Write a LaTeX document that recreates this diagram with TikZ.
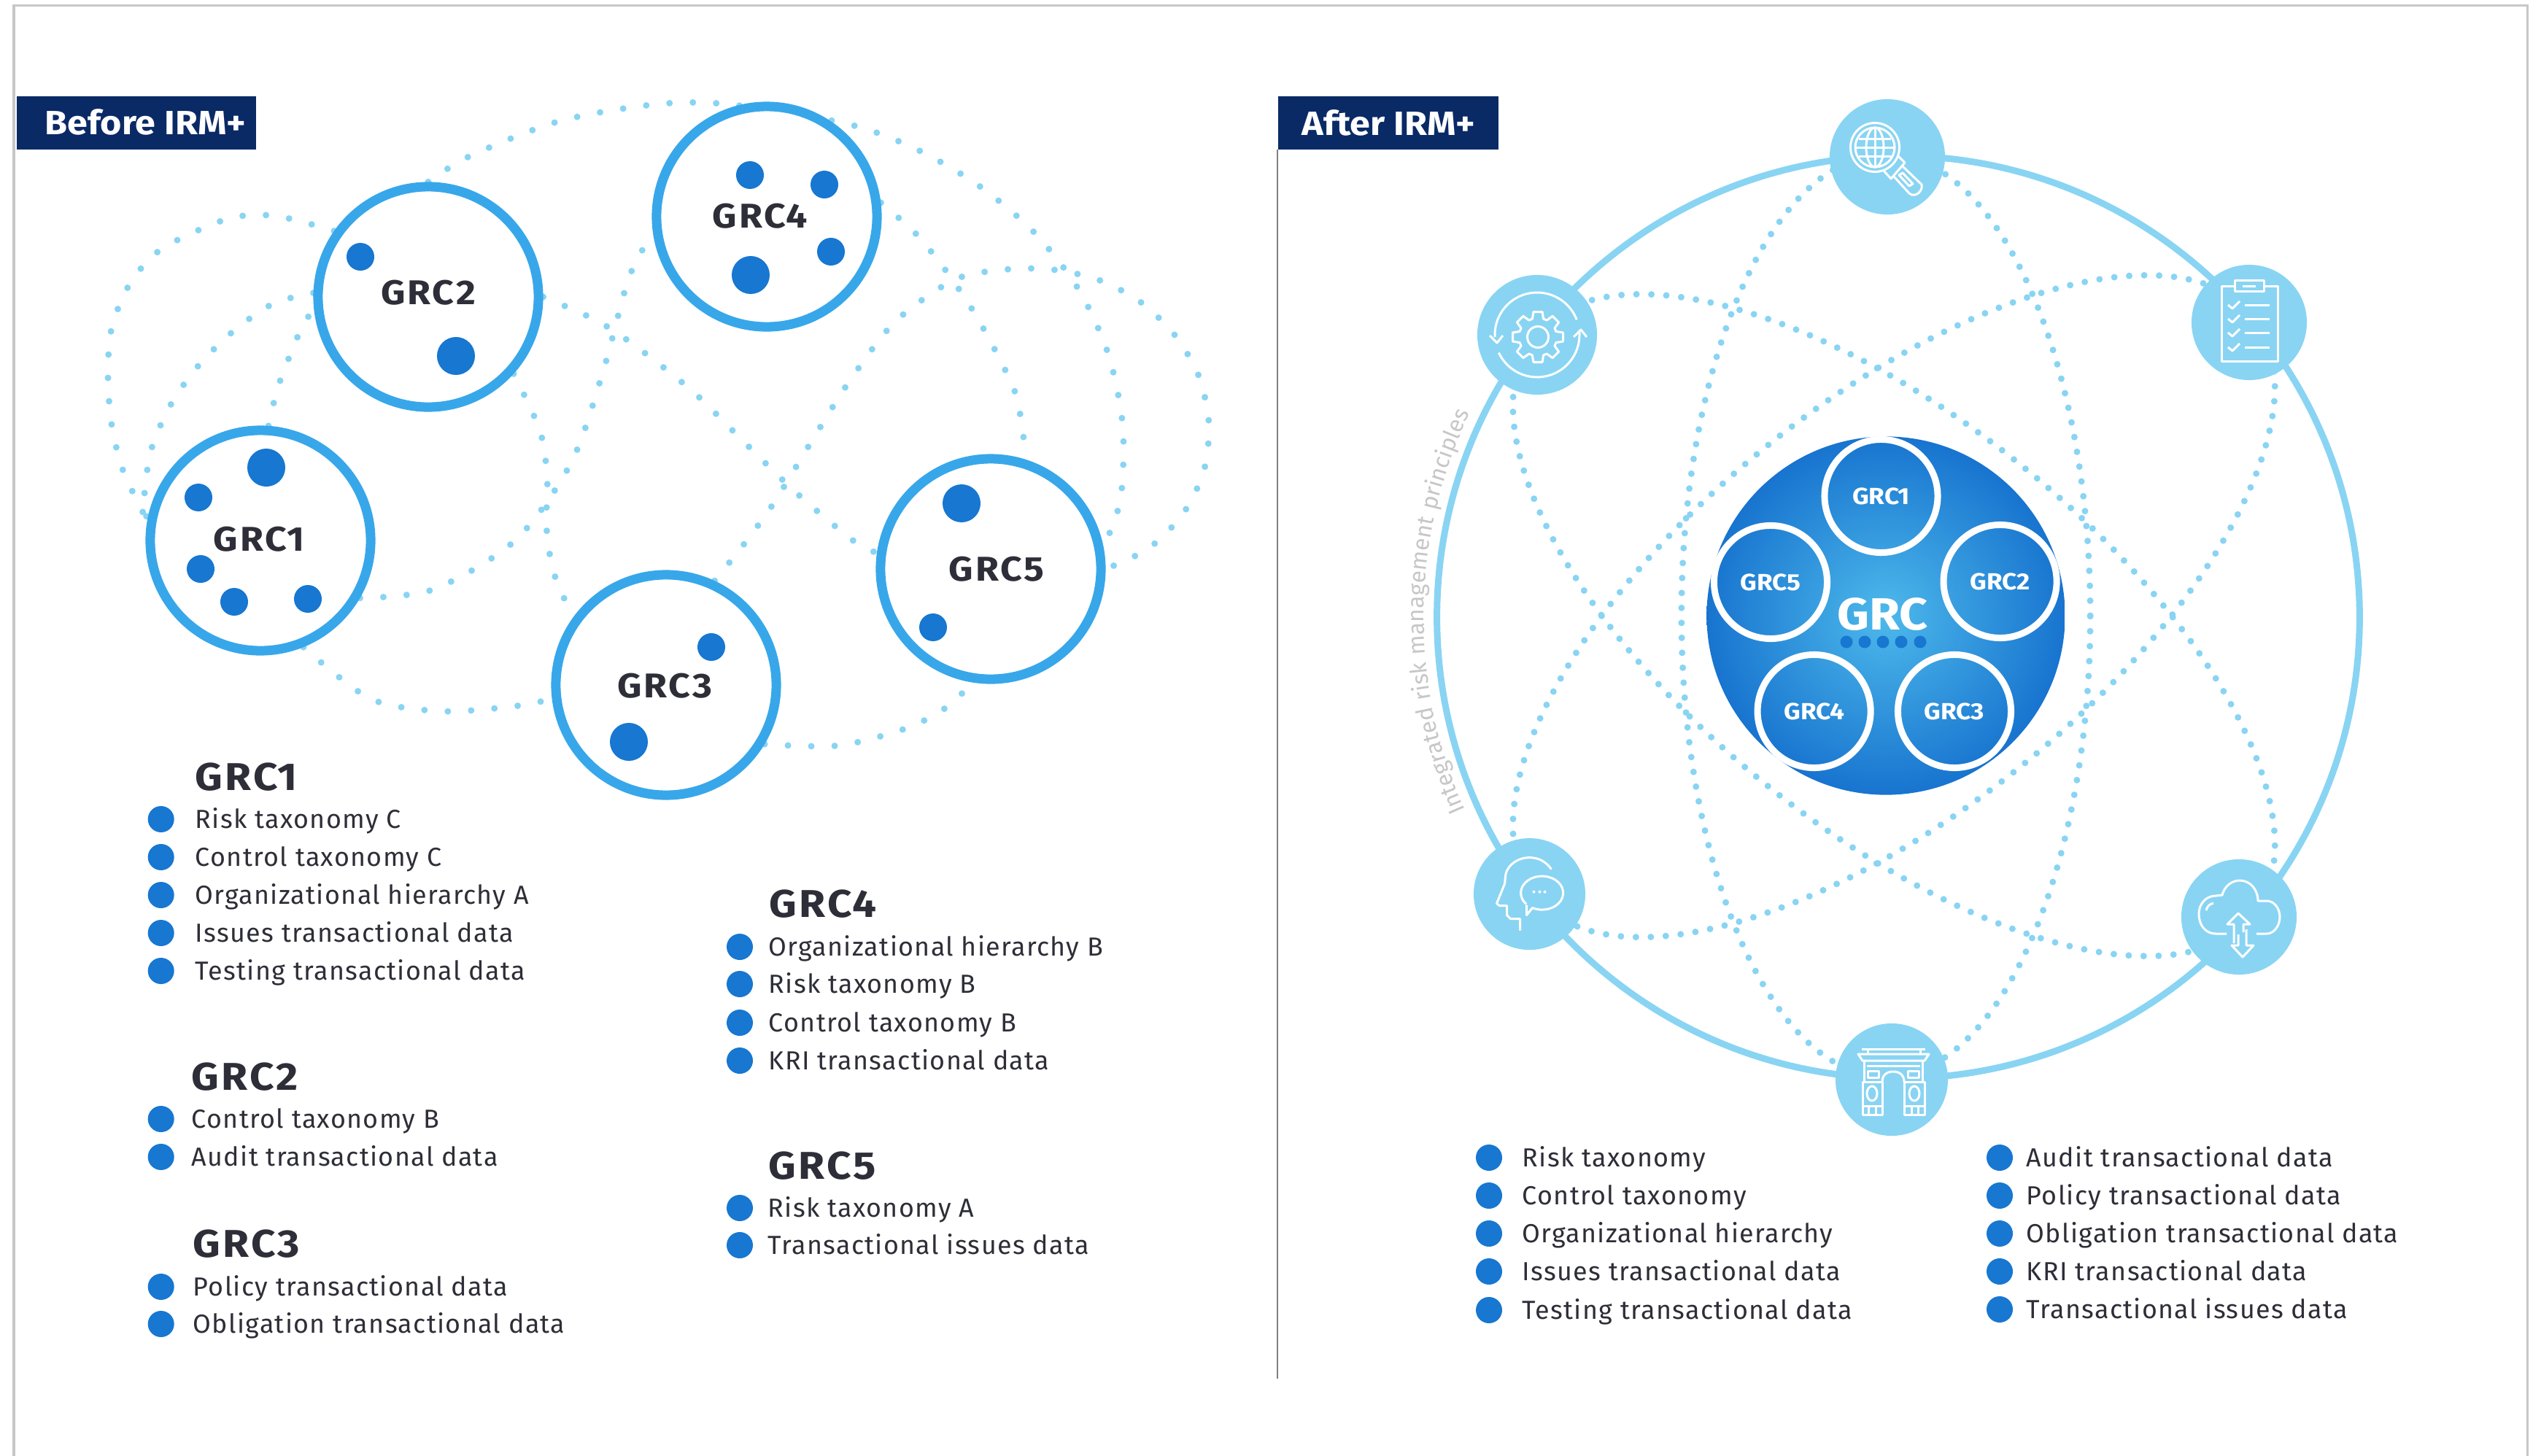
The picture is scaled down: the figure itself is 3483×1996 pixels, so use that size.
\documentclass[tikz,border=0pt]{standalone}
\usepackage{fontspec}
\setmainfont[LetterSpace=3.7]{Fira Sans}
\newfontfamily\headfont[FakeStretch=1.1,LetterSpace=6]{Fira Sans}
\newfontfamily\bannerfont[FakeStretch=1.09]{Fira Sans}
\newfontfamily\hubfont[FakeStretch=1.1]{Fira Sans}
\usetikzlibrary{decorations.text}
\pgfdeclarelayer{background}
\pgfsetlayers{background,main}
\definecolor{inkdark}{HTML}{2E2E38}
\definecolor{navy}{HTML}{0A2A66}
\definecolor{ringblue}{HTML}{38A7EA}
\definecolor{pipblue}{HTML}{1777D1}
\definecolor{skyblue}{HTML}{89D4F3}
\definecolor{hubinner}{HTML}{4DB9EB}
\definecolor{hubouter}{HTML}{1874CF}
\tikzset{
	grccircle/.style={circle, draw=ringblue, fill=white, line width=0.13cm, minimum size=3.02cm, inner sep=0pt},
	grclabel/.style={inkdark, font=\headfont\fontsize{13.4}{16}\selectfont\bfseries, inner sep=0pt},
	bigpip/.style={circle, fill=pipblue, minimum size=0.52cm, inner sep=0pt},
	smallpip/.style={circle, fill=pipblue, minimum size=0.38cm, inner sep=0pt},
	hubpip/.style={circle, fill=pipblue, minimum size=0.17cm, inner sep=0pt},
	bulletdot/.style={circle, fill=pipblue, minimum size=0.36cm, inner sep=0pt},
	listhead/.style={inkdark, anchor=base west, inner sep=0pt, font=\headfont\fontsize{15.1}{18}\selectfont\bfseries},
	listtext/.style={inkdark, anchor=base west, inner sep=0pt, font=\fontsize{10.2}{12}\selectfont},
	bannerbox/.style={fill=navy, anchor=north west, inner sep=0pt, minimum height=0.73cm},
	bannertext/.style={white, anchor=base west, inner sep=0pt, font=\bannerfont\fontsize{13.1}{16}\selectfont\bfseries},
	dotleft/.style={skyblue, line width=0.09cm, line cap=round, dash pattern=on 0pt off 0.32cm},
	dotright/.style={skyblue, line width=0.09cm, line cap=round, dash pattern=on 0pt off 0.205cm},
	iconcircle/.style={circle, fill=skyblue, inner sep=0pt},
	iconline/.style={white, line width=0.03cm, line join=round},
	hubring/.style={circle, draw=white, line width=0.09cm, minimum size=1.55cm, inner sep=0pt, white, font=\hubfont\fontsize{9.1}{11}\selectfont\bfseries},
}
\newcommand{\bulletrow}[5][12]{%
	\node[bulletdot] (dot#2-#4) at (#2,#4-#1) {};
	\node[listtext] (row#2-#4) at (#3,#4) {#5};
}
\begin{document}
\begin{tikzpicture}[x=0.01cm, y=-0.01cm]
\useasboundingbox (0,0) rectangle (3483,1996);
	%% Rahmen
	\draw[color=black!22, line width=0.03cm] (19,1996) -- (19,7) -- (3464,7) -- (3464,1996);
	\draw[color=black!50, line width=0.02cm] (1751,205) -- (1751,1890);
	\node[bannerbox, minimum width=3.28cm] (beforebox) at (22,131) {};
	\node[bannertext] (beforetext) at (61,184) {Before IRM+};
	\node[bannerbox, minimum width=3.02cm] (afterbox) at (1751,131) {};
	\node[bannertext] (aftertext) at (1784,185) {After IRM+};

	%% Before
	\node[grccircle] (grcA) at (357,741) {};
	\node[grccircle] (grcB) at (587,407) {};
	\node[grccircle] (grcC) at (913,939) {};
	\node[grccircle] (grcD) at (1051,297) {};
	\node[grccircle] (grcE) at (1358,780) {};
	\node[grclabel] (lblA) at (355,739) {GRC1};
	\node[grclabel] (lblB) at (587,401) {GRC2};
	\node[grclabel] (lblC) at (911,940) {GRC3};
	\node[grclabel] (lblD) at (1042,296) {GRC4};
	\node[grclabel] (lblE) at (1366,780) {GRC5};

	\node[bigpip] (pipA1) at (365,641) {};
	\node[smallpip] (pipA2) at (272,682) {};
	\node[smallpip] (pipA3) at (275,780) {};
	\node[smallpip] (pipA4) at (321,825) {};
	\node[smallpip] (pipA5) at (422,821) {};
	\node[smallpip] (pipB1) at (494,352) {};
	\node[bigpip] (pipB2) at (625,488) {};
	\node[smallpip] (pipC1) at (975,887) {};
	\node[bigpip] (pipC2) at (862,1017) {};
	\node[smallpip] (pipD1) at (1028,240) {};
	\node[smallpip] (pipD2) at (1130,253) {};
	\node[smallpip] (pipD3) at (1139,345) {};
	\node[bigpip] (pipD4) at (1029,377) {};
	\node[bigpip] (pipE1) at (1318,690) {};
	\node[smallpip] (pipE2) at (1279,860) {};

	\begin{pgfonlayer}{background}
	\draw[dotleft] plot[smooth] coordinates {(grcB.145) (378,296) (312,300) (222,341) (178,389) (153,450) (148,515) (153,582) (169,646) (grcA.170)};
	\draw[dotleft] plot[smooth] coordinates {(grcB.178) (375,416) (321,453) (273,500) (235,553) (208,614) (198,678) (grcA.170)};
	\draw[dotleft] plot[smooth] coordinates {(grcA.86) (379,537) (390,506) (402,476) (415,446) (grcB.186)};
	\draw[dotleft] plot[smooth] coordinates {(grcA.-30) (594,808) (706,741) (783,634) (827,508) (862,381) (grcD.188)};
	\draw[dotleft] plot[smooth] coordinates {(grcB.-42) (740,590) (750,655) (749,722) (759,785) (grcC.144)};
	\draw[dotleft] plot[smooth] coordinates {(grcB.0) (817,439) (872,475) (950,537) (1021,607) (1092,676) (1168,740) (grcE.172)};
	\draw[dotleft] plot[smooth] coordinates {(grcB.90) (644,214) (767,166) (899,143) (999,143) (1162,170) (1255,204) (1341,254) (1417,318) (1478,396) (1519,485) (1539,584) (1536,684) (grcE.11)};
	\draw[dotleft] plot[smooth] coordinates {(grcD.7) (1256,321) (1298,373) (1335,428) (1367,486) (1394,546) (grcE.72)};
	\draw[dotleft] plot[smooth] coordinates {(grcC.65) (1022,743) (1061,689) (1113,604) (1166,520) (1227,441) (1307,384) (1373,370) (1438,369) (1504,383) (1562,413) (1610,459) (1643,515) (1657,580) (1650,646) (1621,705) (1574,752) (grcE.0)};
	\draw[dotleft] plot[smooth] coordinates {(grcA.-68) (508,958) (607,975) (706,968) (grcC.187)};
	\draw[dotleft] plot[smooth] coordinates {(grcC.-31) (1150,1022) (1246,997) (1304,965) (grcE.-100)};
	\end{pgfonlayer}

	%% Listen links
	\node[listhead] (headA) at (267,1083) {GRC1};
	\bulletrow{220.7}{267}{1135}{Risk taxonomy C}
	\bulletrow{220.7}{267}{1187}{Control taxonomy C}
	\bulletrow{220.7}{267}{1239}{Organizational hierarchy A}
	\bulletrow{220.7}{267}{1291}{Issues transactional data}
	\bulletrow{220.7}{267}{1343}{Testing transactional data}
	\node[listhead] (headB) at (262,1494) {GRC2};
	\bulletrow{220.7}{262}{1546}{Control taxonomy B}
	\bulletrow{220.7}{262}{1598}{Audit transactional data}
	\node[listhead] (headC) at (264,1723) {GRC3};
	\bulletrow{220.7}{264}{1776}{Policy transactional data}
	\bulletrow{220.7}{264}{1827}{Obligation transactional data}
	\node[listhead] (headD) at (1054,1257) {GRC4};
	\bulletrow{1014}{1053}{1310}{Organizational hierarchy B}
	\bulletrow{1014}{1053}{1361}{Risk taxonomy B}
	\bulletrow{1014}{1053}{1414}{Control taxonomy B}
	\bulletrow{1014}{1053}{1466}{KRI transactional data}
	\node[listhead] (headE) at (1053,1616) {GRC5};
	\bulletrow{1014}{1052}{1668}{Risk taxonomy A}
	\bulletrow{1014}{1052}{1719}{Transactional issues data}

	%% After
	\coordinate (ringc) at (2602,846);
	\coordinate (orbA) at (2596,857);
	\coordinate (orbB) at (2596,831);
	\node[circle, shade, inner color=hubinner, outer color=hubouter, minimum size=4.91cm, inner sep=0pt] (hub) at (2585,844) {};
	\node[hubring] (hubA) at (2578.5,680) {GRC1};
	\node[hubring] (hubB) at (2741.6,797) {GRC2};
	\node[hubring] (hubC) at (2679,975) {GRC3};
	\node[hubring] (hubD) at (2486.6,975) {GRC4};
	\node[hubring] (hubE) at (2427,798) {GRC5};
	\node[white, inner sep=0pt, font=\hubfont\fontsize{17.6}{20}\selectfont\bfseries] (hubtext) at (2581,842) {GRC};
	\foreach \i/\xx in {1/2531,2/2556,3/2581,4/2606,5/2632}
		\node[hubpip] (hubpip\i) at (\xx,880) {};

	\node[iconcircle, minimum size=1.58cm] (search) at (2587,215) {};
	\node[iconcircle, minimum size=1.58cm] (clip) at (3083,442) {};
	\node[iconcircle, minimum size=1.64cm] (gear) at (2107,459) {};
	\node[iconcircle, minimum size=1.58cm] (cloud) at (3069,1257) {};
	\node[iconcircle, minimum size=1.53cm] (head) at (2096.5,1225.6) {};
	\node[iconcircle, minimum size=1.54cm] (arch) at (2593,1480) {};

	\begin{pgfonlayer}{background}
	\draw[skyblue, line width=0.09cm] (ringc) circle [radius=6.32cm];
	\draw[dotright] (hub) ellipse [x radius=2.8cm, y radius=6.32cm];
	\draw[dotright, rotate around={-39:(orbA)}] (orbA) ellipse [x radius=6.32cm, y radius=2.8cm];
	\draw[dotright, rotate around={39:(orbB)}] (orbB) ellipse [x radius=6.32cm, y radius=2.8cm];
	\end{pgfonlayer}

	\path[decorate, decoration={text along path, text align=center,
		text={|\fontsize{9}{10}\selectfont\color{black!22}|Integrated risk management principles}}]
		(ringc) ++(204.3:6.5cm) arc [start angle=204.3, end angle=154.3, radius=6.5cm];

	%% Symbole
	\begin{scope}[shift={(search)}, iconline]
		\draw (-17,-13) circle [radius=0.335cm];
		\draw (-17,-13) circle [radius=0.27cm];
		\draw (-17,-13) ellipse [x radius=0.12cm, y radius=0.27cm];
		\draw (-17,-40) -- (-17,14);
		\draw (-43,-13) -- (9,-13);
		\draw (-39,-25) -- (5,-25);
		\draw (-39,-1) -- (5,-1);
		\draw (-5,19) -- (5,30) -- (24,8) -- (14,-2);
		\draw (9,27) -- (30,50) .. controls (34,54) and (41,53) .. (45,47) .. controls (47,44) and (48,41) .. (47,38) -- (21,13);
		\draw (16,25) -- (21,22) -- (35,37) -- (30,40) -- cycle;
	\end{scope}

	\begin{scope}[shift={(clip)}, iconline]
		\draw (-20,-50) -- (-38,-50) -- (-38,53) -- (39,53) -- (39,-50) -- (20,-50);
		\draw (-20,-58) rectangle (20,-43);
		\draw (-9,-50) -- (9,-50);
		\foreach \yy in {-24,-5,14,34} {
			\draw (-29,\yy) -- (-23,\yy+5) -- (-13,\yy-5);
			\draw (-6,\yy) -- (28,\yy);
		}
	\end{scope}

	\begin{scope}[shift={(gear)}, iconline]
		\draw (21:0.58cm) arc [start angle=21, end angle=183, radius=0.58cm];
		\draw (-65,1) -- (-55,11) -- (-47,1);
		\draw (205:0.58cm) arc [start angle=205, end angle=366, radius=0.58cm];
		\draw (50,3) -- (60,-7) -- (68,3);
		\begin{scope}[shift={(1,3)}]
			\draw (-10:0.35cm) \foreach \a in {0,45,...,315} { -- (\a-10:0.35cm) -- (\a+10:0.35cm) -- (\a+17:0.26cm) -- (\a+28:0.26cm) } -- cycle;
			\draw (0,0) circle [radius=0.145cm];
		\end{scope}
	\end{scope}

	\begin{scope}[shift={(cloud)}, iconline]
		\draw (-17,23) -- (-32,23) .. controls (-46,23) and (-55,11) .. (-55,-4) .. controls (-55,-18) and (-45,-29) .. (-32,-29) -- (-23,-30) .. controls (-20,-42) and (-10,-50) .. (1,-50) .. controls (15,-50) and (26,-38) .. (26,-22) -- (38,-22) .. controls (48,-22) and (56,-12) .. (56,0) .. controls (56,12) and (48,23) .. (38,23) -- (24,23);
		\draw (-45,-9) .. controls (-44,-14) and (-40,-18) .. (-35,-19);
		\draw (-7,36) -- (-7,10) -- (-16,10) -- (-1,-5) -- (15,10) -- (6,10) -- (6,21);
		\draw (-1,24) -- (-1,39) -- (-10,39) -- (5,55) -- (20,39) -- (10,39) -- (10,17);
	\end{scope}

	\begin{scope}[shift={(head)}, iconline]
		\draw (30,-34) .. controls (22,-45) and (12,-50) .. (0,-50) .. controls (-20,-50) and (-33,-35) .. (-33,-24) -- (-34,-14) -- (-45,13) -- (-41,16) -- (-31,16) -- (-31,29) -- (-26,34) -- (-13,34) -- (-13,50);
		\draw (-4,15) -- (-4,29) -- (4,19) arc [start angle=243, end angle=582, x radius=0.29cm, y radius=0.23cm];
		\foreach \xx in {6,14,21}
			\fill[white] (\xx,-3) circle [radius=0.02cm];
	\end{scope}

	\begin{scope}[shift={(arch)}, iconline]
		\draw (-41,-42) -- (46,-42);
		\draw (-33,-42) -- (-33,-35);
		\draw (39,-42) -- (39,-35);
		\draw (-46,-35) -- (51,-35) -- (45,-26) -- (-40,-26) -- cycle;
		\draw (-38,-26) -- (-38,3);
		\draw (42,-26) -- (42,3);
		\draw (-34,-19) -- (39,-19);
		\draw (-33,-12) rectangle (-18,-3);
		\draw (22,-12) rectangle (37,-3);
		\draw (-40,48) rectangle (-13,3);
		\draw (17,48) rectangle (45,3);
		\draw (-13,3) .. controls (-13,-6) and (-7,-11) .. (2,-11) .. controls (11,-11) and (17,-6) .. (17,3);
		\draw (-27,19) ellipse [x radius=0.07cm, y radius=0.1cm];
		\draw (31,19) ellipse [x radius=0.07cm, y radius=0.1cm];
		\draw (-40,36) -- (-13,36);
		\draw (17,36) -- (45,36);
		\foreach \xx in {-32,-22,27,36}
			\draw (\xx,36) -- (\xx,48);
	\end{scope}

	%% Listen rechts
	\bulletrow{2041}{2086}{1599}{Risk taxonomy}
	\bulletrow{2041}{2086}{1651}{Control taxonomy}
	\bulletrow{2041}{2086}{1703}{Organizational hierarchy}
	\bulletrow{2041}{2086}{1755}{Issues transactional data}
	\bulletrow{2041}{2086}{1808}{Testing transactional data}
	\bulletrow{2741}{2777}{1599}{Audit transactional data}
	\bulletrow{2741}{2777}{1651}{Policy transactional data}
	\bulletrow{2741}{2777}{1703}{Obligation transactional data}
	\bulletrow{2741}{2777}{1755}{KRI transactional data}
	\bulletrow{2741}{2777}{1807}{Transactional issues data}
\end{tikzpicture}
\end{document}
